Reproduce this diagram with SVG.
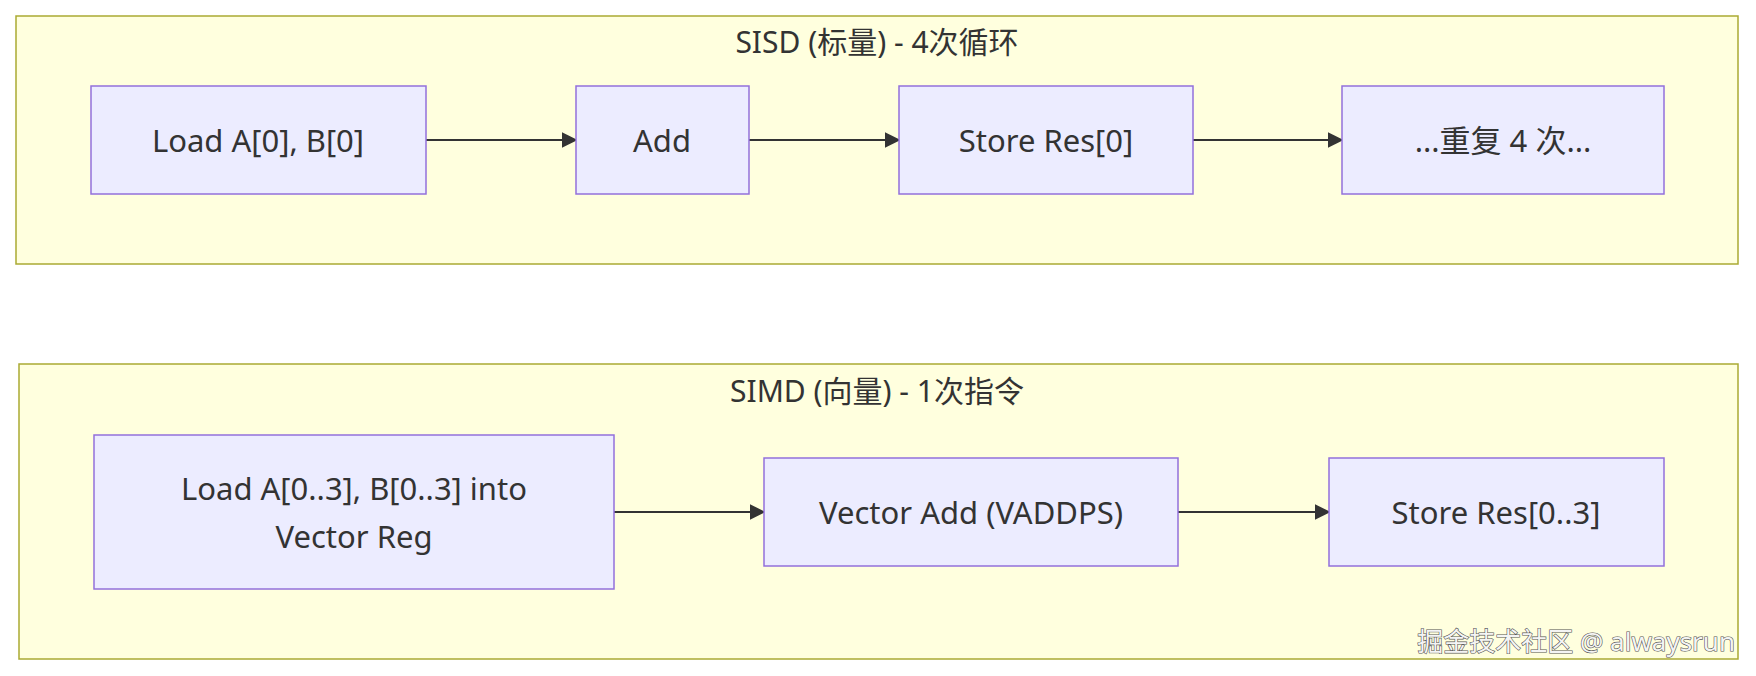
<svg xmlns="http://www.w3.org/2000/svg" width="1756" height="676" viewBox="0 0 1756 676">
<style>
.cl{fill:#ffffde;stroke:#aaaa33;stroke-width:1.5}
.nd{fill:#ececff;stroke:#9370db;stroke-width:1.5}
text{font-family:"Noto Sans","Noto Sans CJK SC",sans-serif;fill:#333;text-anchor:middle;dominant-baseline:central}
.t{font-size:30px}
.n{font-size:31px}
.e{stroke:#333;stroke-width:2;fill:none;marker-end:url(#a)}
</style>
<defs><marker id="a" viewBox="0 0 10 10" refX="9" refY="5" markerWidth="8" markerHeight="8" orient="auto"><path d="M0,0L10,5L0,10z" fill="#333"/></marker></defs>
<rect width="1756" height="676" fill="#fff"/>
<g id="sisd"><rect class="cl" x="16" y="16" width="1722" height="248"/><text class="t" x="877" y="41">SISD (标量) - 4次循环</text></g>
<g id="simd"><rect class="cl" x="19" y="364" width="1719" height="295"/><text class="t" x="877" y="390">SIMD (向量) - 1次指令</text></g>
<g id="edges">
<path class="e" d="M426,140H576"/><path class="e" d="M749,140H899"/><path class="e" d="M1193,140H1342"/>
<path class="e" d="M614,512H764"/><path class="e" d="M1178,512H1329"/>
</g>
<g id="n1"><rect class="nd" x="91" y="86" width="335" height="108"/><text class="n" x="258" y="140">Load A[0], B[0]</text></g>
<g id="n2"><rect class="nd" x="576" y="86" width="173" height="108"/><text class="n" x="662" y="140">Add</text></g>
<g id="n3"><rect class="nd" x="899" y="86" width="294" height="108"/><text class="n" x="1046" y="140">Store Res[0]</text></g>
<g id="n4"><rect class="nd" x="1342" y="86" width="322" height="108"/><text class="n" x="1503" y="140">...重复 4 次...</text></g>
<g id="m1"><rect class="nd" x="94" y="435" width="520" height="154"/><text class="n" x="354" y="488">Load A[0..3], B[0..3] into</text><text class="n" x="354" y="536">Vector Reg</text></g>
<g id="m2"><rect class="nd" x="764" y="458" width="414" height="108"/><text class="n" x="971" y="512">Vector Add (VADDPS)</text></g>
<g id="m3"><rect class="nd" x="1329" y="458" width="335" height="108"/><text class="n" x="1496" y="512">Store Res[0..3]</text></g>
<text x="1735" y="641" style="font-size:26px;text-anchor:end;fill:#f4f4f4;stroke:#555;stroke-width:1.2;paint-order:stroke">掘金技术社区 @ alwaysrun</text>
</svg>
